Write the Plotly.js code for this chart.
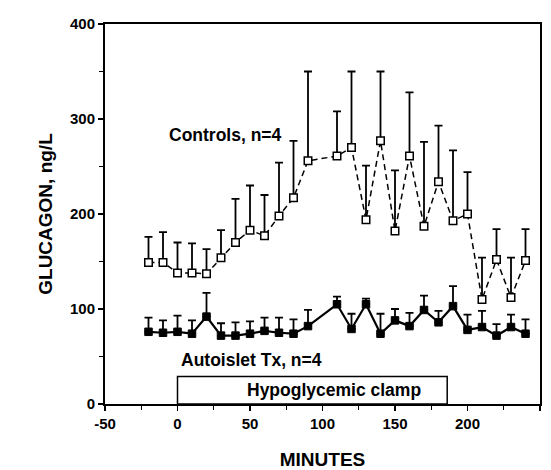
<!DOCTYPE html>
<html>
<head>
<meta charset="utf-8">
<script src="https://cdn.plot.ly/plotly-3.0.1.min.js"></script>
<style>
html,body{margin:0;padding:0;background:#fff;}
#chart{width:551px;height:470px;}
</style>
</head>
<body>
<div id="chart"></div>
<script>
// Time points (minutes)
var minutes = [-20,-10,0,10,20,30,40,50,60,70,80,90,110,120,130,140,150,160,170,180,190,200,210,220,230,240];

// Controls, n=4 : mean glucagon (ng/L) and upper SEM
var controlsMean = [149,149,138,138,137,154,170,183,177,198,217,256,261,270,194,277,182,261,187,234,193,200,110,152,112,151];
var controlsErr  = [27,32,32,31,26,29,46,47,43,56,60,94,47,80,57,73,64,67,89,59,74,44,44,32,42,33];

// Autoislet Tx, n=4 : mean glucagon (ng/L) and upper SEM
var autoMean = [76,75,76,74,92,72,72,74,77,75,74,82,105,79,105,74,88,82,99,86,103,78,81,72,81,74];
var autoErr  = [15,13,17,14,25,13,14,13,14,16,15,17,8,16,6,21,12,14,15,12,21,16,17,12,13,15];

// Tick labels
var xTickVals = [-50,0,50,100,150,200,250];
var xTickText = ['-50','0','50','100','150','200','250'];
var yTickVals = [0,100,200,300,400];
var yTickText = ['0','100','200','300','400'];

var zeros = minutes.map(function(){return 0;});

var FONT = "Liberation Sans, Arial, Helvetica, sans-serif";

var controls = {
  x: minutes, y: controlsMean, type: 'scatter', mode: 'lines+markers',
  name: 'Controls, n=4',
  line: {color: '#000', width: 1.5, dash: '6px,4px'},
  marker: {symbol: 'square', size: 7.5, color: '#fff', line: {color: '#000', width: 1.5}},
  error_y: {type: 'data', symmetric: false, array: controlsErr, arrayminus: zeros,
            color: '#000', thickness: 1.8, width: 4},
  cliponaxis: false
};

var auto = {
  x: minutes, y: autoMean, type: 'scatter', mode: 'lines+markers',
  name: 'Autoislet Tx, n=4',
  line: {color: '#000', width: 2.2},
  marker: {symbol: 'square', size: 7.5, color: '#000', line: {color: '#000', width: 1}},
  error_y: {type: 'data', symmetric: false, array: autoErr, arrayminus: zeros,
            color: '#000', thickness: 1.8, width: 4},
  cliponaxis: false
};

var layout = {
  width: 551, height: 470,
  margin: {l: 105, r: 11, t: 24, b: 66},
  paper_bgcolor: '#fff', plot_bgcolor: '#fff',
  showlegend: false,
  font: {family: FONT, color: '#000', size: 15, weight: 'bold'},
  xaxis: {
    range: [-50, 250], tickvals: xTickVals, ticktext: xTickText,
    ticks: 'outside', ticklen: 5, tickwidth: 1.5, tickcolor: '#000',
    minor: {dtick: 25, tick0: 0, ticks: 'outside', ticklen: 4, tickwidth: 1.2, tickcolor: '#000'},
    showgrid: false, zeroline: false,
    showline: true, linecolor: '#000', linewidth: 2, mirror: true,
    tickfont: {family: FONT, size: 15, weight: 'bold', color: '#000'},
    title: {text: 'MINUTES', font: {family: FONT, size: 19, weight: 'bold', color: '#000'}, standoff: 24}
  },
  yaxis: {
    range: [0, 400], tickvals: yTickVals, ticktext: yTickText,
    ticks: 'outside', ticklen: 5, tickwidth: 1.5, tickcolor: '#000',
    minor: {dtick: 50, tick0: 0, ticks: 'outside', ticklen: 4, tickwidth: 1.2, tickcolor: '#000'},
    showgrid: false, zeroline: false,
    showline: true, linecolor: '#000', linewidth: 2, mirror: true,
    tickfont: {family: FONT, size: 15, weight: 'bold', color: '#000'},
    title: {text: 'GLUCAGON, ng/L', font: {family: FONT, size: 19, weight: 'bold', color: '#000'}, standoff: 12}
  },
  shapes: [
    {type: 'rect', xref: 'x', yref: 'y', x0: 0, x1: 186, y0: 0, y1: 29,
     line: {color: '#000', width: 1.5}, fillcolor: 'rgba(0,0,0,0)'}
  ],
  annotations: [
    {x: 33, y: 283, xref: 'x', yref: 'y', text: 'Controls, n=4', showarrow: false,
     font: {family: FONT, size: 17.5, weight: 'bold', color: '#000'}},
    {x: 51, y: 46, xref: 'x', yref: 'y', text: 'Autoislet Tx, n=4', showarrow: false,
     font: {family: FONT, size: 17.5, weight: 'bold', color: '#000'}},
    {x: 108, y: 15, xref: 'x', yref: 'y', text: 'Hypoglycemic clamp', showarrow: false,
     font: {family: FONT, size: 17.5, weight: 'bold', color: '#000'}}
  ]
};

Plotly.newPlot('chart', [controls, auto], layout, {displayModeBar: false, staticPlot: true});
</script>
</body>
</html>
